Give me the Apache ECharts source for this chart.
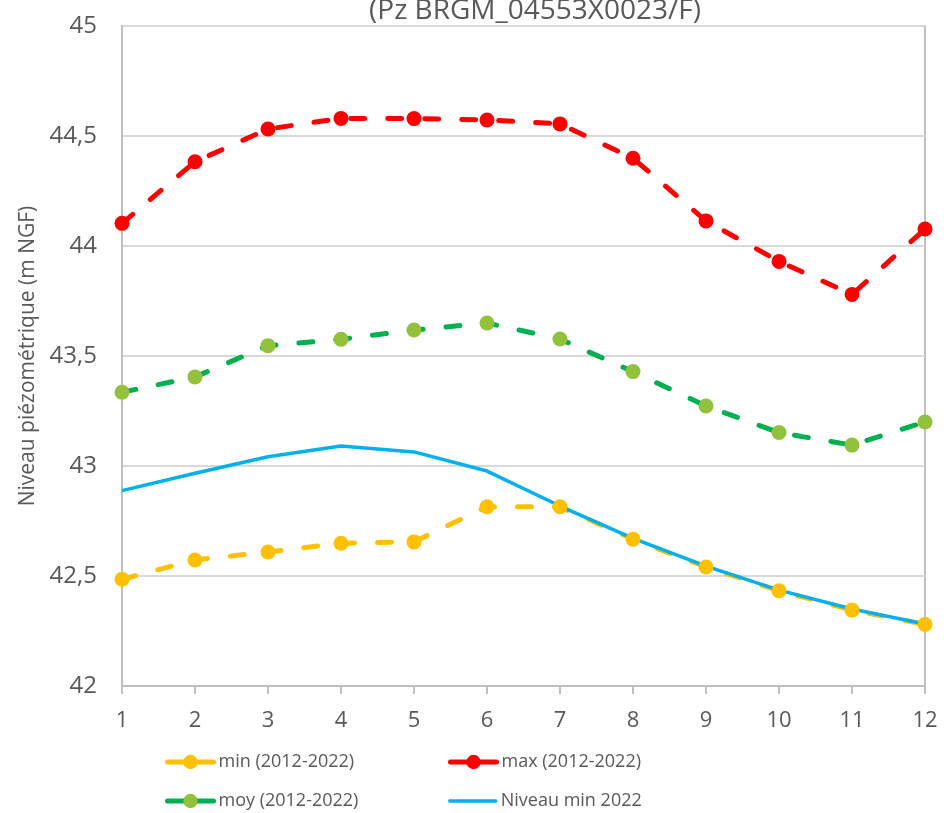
<!DOCTYPE html>
<html>
<head>
<meta charset="utf-8">
<script src="https://cdn.jsdelivr.net/npm/echarts@6/dist/echarts.min.js"></script>
<style>
html,body{margin:0;padding:0;background:#fff;}
#chart{width:944px;height:813px;}
</style>
</head>
<body>
<div id="chart"></div>
<script>
const months = ['1','2','3','4','5','6','7','8','9','10','11','12'];
const minSeries = [42.485, 42.573, 42.609, 42.649, 42.655, 42.815, 42.815, 42.667, 42.541, 42.433, 42.345, 42.28];
const maxSeries = [44.103, 44.383, 44.532, 44.58, 44.579, 44.573, 44.555, 44.399, 44.114, 43.93, 43.78, 44.077];
const moySeries = [43.335, 43.405, 43.547, 43.576, 43.618, 43.65, 43.577, 43.429, 43.273, 43.152, 43.095, 43.2];
const niveau2022 = [42.888, 42.967, 43.042, 43.091, 43.064, 42.977, 42.818, 42.671, 42.545, 42.436, 42.35, 42.282];
const seriesNames = ['min (2012-2022)', 'max (2012-2022)', 'moy (2012-2022)', 'Niveau min 2022'];
const titleText = '(Pz BRGM_04553X0023/F)';
const yAxisName = 'Niveau piézométrique (m NGF)';

const FONT = '"Open Sans", sans-serif';
const TXT = '#595959';
const dash = [14, 23];

const chart = echarts.init(document.getElementById('chart'));
const legendText = {fontFamily: FONT, fontSize: 18, color: TXT};
function lg(name, left, top, lw, hideSymbol) {
  const o = {data: [name], left: left, top: top, orient: 'horizontal', itemWidth: 46, itemHeight: 18,
    textStyle: legendText, selectedMode: false,
    lineStyle: {width: lw, type: 'solid', cap: 'round'}};
  if (hideSymbol) o.itemStyle = {opacity: 0};
  return o;
}
chart.setOption({
  animation: false,
  backgroundColor: '#ffffff',
  title: {
    text: titleText, left: 530, textAlign: 'center', top: -8,
    textStyle: {fontFamily: FONT, fontSize: 28, fontWeight: 'normal', color: TXT}
  },
  grid: {left: 122, right: 19, top: 26, bottom: 127, show: true, borderColor: '#bfbfbf', borderWidth: 2},
  legend: [
    lg(seriesNames[0], 160, 748, 5, false),
    lg(seriesNames[1], 443, 748, 5, false),
    lg(seriesNames[2], 160, 787, 5, false),
    lg(seriesNames[3], 443, 787, 3.5, true)
  ],
  xAxis: {
    type: 'category', data: months, boundaryGap: false,
    axisLine: {lineStyle: {color: '#bfbfbf', width: 2}},
    axisTick: {show: true, length: 8, lineStyle: {color: '#bfbfbf', width: 2}},
    axisLabel: {fontFamily: FONT, fontSize: 22, color: TXT, margin: 24},
    splitLine: {show: false}
  },
  yAxis: {
    type: 'value', min: 42, max: 45, interval: 0.5,
    name: yAxisName, nameLocation: 'middle', nameGap: 82,
    nameTextStyle: {fontFamily: FONT, fontSize: 21, color: TXT},
    axisLine: {show: true, lineStyle: {color: '#bfbfbf', width: 2}},
    axisTick: {show: false},
    axisLabel: {fontFamily: FONT, fontSize: 24, color: TXT, margin: 25,
      formatter: v => String(v).replace('.', ',')},
    splitLine: {lineStyle: {color: '#d9d9d9', width: 2}}
  },
  series: [
    {name: seriesNames[0], type: 'line', data: minSeries, symbol: 'circle', symbolSize: 15,
      itemStyle: {color: '#ffc000'},
      lineStyle: {color: '#ffc000', width: 5, type: dash, cap: 'round'}},
    {name: seriesNames[1], type: 'line', data: maxSeries, symbol: 'circle', symbolSize: 15,
      itemStyle: {color: '#ff0000'},
      lineStyle: {color: '#ff0000', width: 5, type: dash, cap: 'round'}},
    {name: seriesNames[2], type: 'line', data: moySeries, symbol: 'circle', symbolSize: 15,
      itemStyle: {color: '#92c13b'},
      lineStyle: {color: '#00b050', width: 5, type: dash, cap: 'round'}},
    {name: seriesNames[3], type: 'line', data: niveau2022, symbol: 'none',
      itemStyle: {color: '#00b0f0'},
      lineStyle: {color: '#00b0f0', width: 3.5}}
  ]
});
</script>
</body>
</html>
